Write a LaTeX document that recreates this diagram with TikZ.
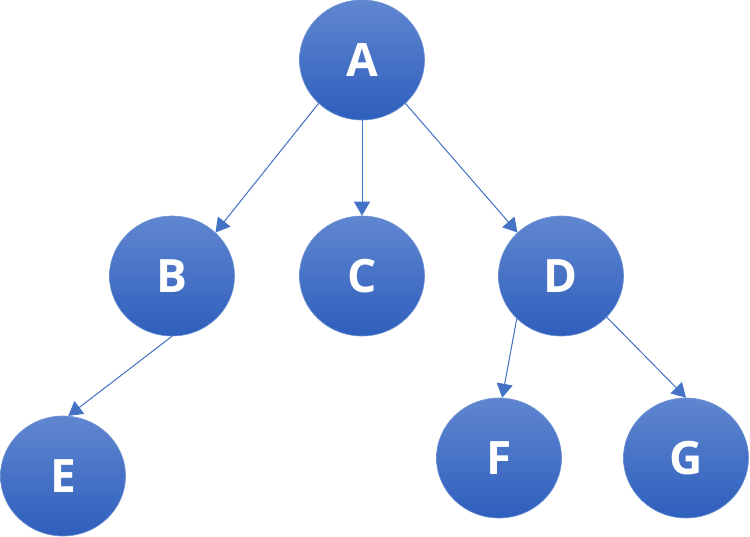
\documentclass[tikz,border=0pt]{standalone}
\usepackage{fontspec}
\setmainfont{Open Sans}
\usepackage{xcolor}
\usepackage{tikz}
\usetikzlibrary{shapes.geometric, arrows.meta}

\definecolor{nodetop}{RGB}{96,134,208}
\definecolor{nodebot}{RGB}{46,95,188}
\definecolor{nodeline}{RGB}{110,146,212}
\definecolor{edgeblue}{RGB}{68,114,196}

\begin{document}
\begin{tikzpicture}[
    x=1pt, y=-1pt,
    treenode/.style={ellipse, minimum width=125pt, minimum height=120pt, inner sep=0pt,
        top color=nodetop, bottom color=nodebot, draw=nodeline, line width=0.6pt,
        text=white, font=\fontsize{46}{46}\selectfont\bfseries},
    arrow/.style={-{Triangle[length=14pt, width=16pt]}, draw=edgeblue, fill=edgeblue, line width=1pt},
]
\useasboundingbox (0,0) rectangle (750,536);

% Level 0
\node[treenode] (a) at (362,60) {A};

% Level 1
\node[treenode] (b) at (172,276) {B};
\node[treenode] (c) at (362,276) {C};
\node[treenode] (d) at (561,276) {D};

% Level 2
\node[treenode] (e) at (63,476) {E};
\node[treenode] (f) at (499,458) {F};
\node[treenode] (g) at (686,458) {G};

\draw[arrow] (a.225) -- (b.45);
\draw[arrow] (a.south) -- (c.north);
\draw[arrow] (a.-45) -- (d.135);
\draw[arrow] (b.south) -- (e.85);
\draw[arrow] (d.224) -- (f.87);
\draw[arrow] (d.-42) -- (g.north);

\end{tikzpicture}
\end{document}
